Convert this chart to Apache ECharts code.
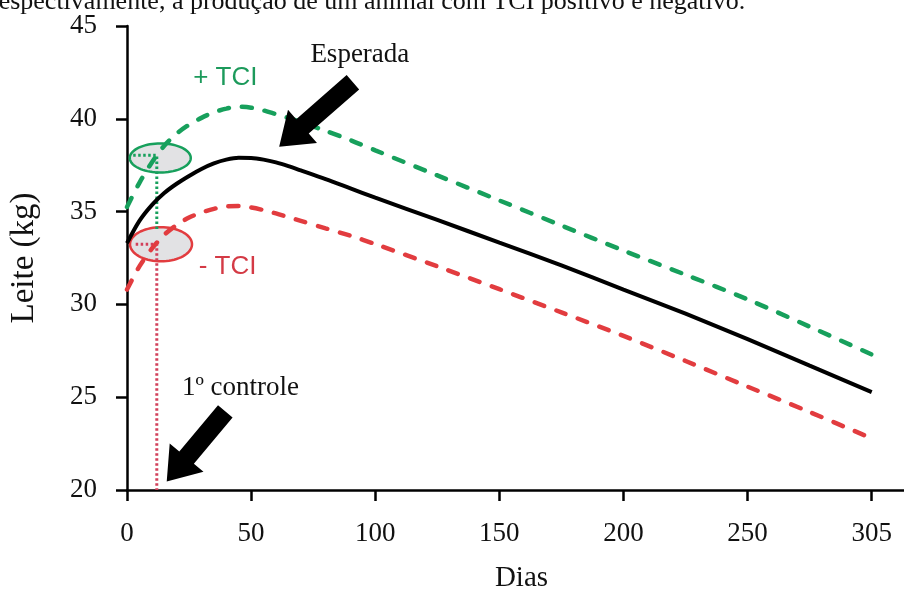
<!DOCTYPE html>
<html>
<head>
<meta charset="utf-8">
<script src="https://cdn.jsdelivr.net/npm/echarts@6/dist/echarts.min.js"></script>
<style>
html,body{margin:0;padding:0;background:#fff;overflow:hidden;}
#chart{width:904px;height:589px;}
</style>
</head>
<body>
<div id="chart"></div>
<script>
// ---- data ----
const dias = [0,5,10,15,20,25,30,35,40,45,50,55,60,65,70,80,90,100,125,150,175,200,225,250,275,300];
const esperada = [33.3,34.5,35.35,36.0,36.5,36.92,37.3,37.6,37.8,37.9,37.89,37.8,37.65,37.45,37.22,36.75,36.25,35.75,34.55,33.33,32.1,30.8,29.5,28.13,26.7,25.27];
const tciPos = [35.25,36.55,37.65,38.55,39.2,39.68,40.05,40.35,40.55,40.65,40.6,40.45,40.25,40.05,39.83,39.35,38.85,38.3,36.95,35.6,34.25,32.9,31.6,30.27,28.8,27.3];
const tciNeg = [30.8,32.05,33.0,33.75,34.28,34.68,34.95,35.15,35.28,35.3,35.22,35.08,34.9,34.7,34.5,34.1,33.7,33.25,32.05,30.82,29.57,28.3,26.95,25.57,24.2,22.78];
const xTicks = [0,50,100,150,200,250,300];
const xTickLabels = ['0','50','100','150','200','250','305'];
const controleDia = 12;
const controlePos = 38.04;
const controleNeg = 33.24;
const elipses = [[13.4,37.89],[13.7,33.24]];
// arrows: [tipDay, tipValue, tailDay, tailValue]
const setas = [[61.3,38.49,91.0,41.97],[16.0,20.46,39.6,24.24]];
// text annotations: [day, value]
const txtEsperada = [93.8,43.46];
const txtPos = [39.6,42.22];
const txtNeg = [40.5,32.0];
const txtControle = [45.7,25.5];

const GREEN = '#17a05c';
const RED = '#e23c3f';
const SERIF = '"Liberation Serif","Times New Roman",serif';
const SANS = '"Liberation Sans",Arial,sans-serif';

const chart = echarts.init(document.getElementById('chart'), null, {renderer:'canvas'});

function pairs(xs, ys){ return xs.map((x,i)=>[x,ys[i]]); }

function ellipseItem(params, api){
  const c = api.coord([api.value(0), api.value(1)]);
  const rx = params.dataIndex === 0 ? 30.5 : 31;
  const ry = params.dataIndex === 0 ? 14.5 : 17;
  const pts = [];
  for(let i=0;i<72;i++){
    const a = i/72*Math.PI*2;
    pts.push([c[0]+rx*Math.cos(a), c[1]+ry*Math.sin(a)]);
  }
  return {type:'polygon', shape:{points:pts},
    style:{fill:'#e2e2e4', stroke: params.dataIndex===0?GREEN:RED, lineWidth:2.5}};
}

function arrowItem(params, api){
  const tip = api.coord([api.value(0), api.value(1)]);
  const tail = api.coord([api.value(2), api.value(3)]);
  const dx = tip[0]-tail[0], dy = tip[1]-tail[1];
  const L = Math.hypot(dx,dy);
  const ux = dx/L, uy = dy/L, nx = -uy, ny = ux;
  const hl = 31, hw = 22, sw = 9.5;
  const bx = tip[0]-ux*hl, by = tip[1]-uy*hl;
  const pts = [
    [tail[0]+nx*sw, tail[1]+ny*sw],
    [bx+nx*sw, by+ny*sw],
    [bx+nx*hw, by+ny*hw],
    [tip[0], tip[1]],
    [bx-nx*hw, by-ny*hw],
    [bx-nx*sw, by-ny*sw],
    [tail[0]-nx*sw, tail[1]-ny*sw]
  ];
  return {type:'polygon', shape:{points:pts}, style:{fill:'#000'}};
}

function textPoint(pos, text, color, family, size){
  return {value:pos, label:{show:true, formatter:text, color:color, fontFamily:family, fontSize:size,
    position:'inside', align:'center', verticalAlign:'middle'}};
}

const option = {
  animation:false,
  backgroundColor:'#fff',
  grid:{left:127, right:0, top:26, bottom:99, containLabel:false, outerBoundsMode:'none'},
  xAxis:{
    type:'value', min:0, max:313,
    name:'Dias', nameLocation:'middle', nameGap:74,
    nameTextStyle:{fontFamily:SERIF, fontSize:29, color:'#111', padding:[0,0,0,12]},
    axisLine:{show:true, onZero:false, lineStyle:{color:'#000', width:2.5}},
    axisTick:{show:true, inside:false, length:11, lineStyle:{color:'#000', width:2.5}, customValues:xTicks},
    axisLabel:{show:true, margin:30, fontFamily:SERIF, fontSize:27, color:'#111', customValues:xTicks,
      formatter:(v)=>{const i=xTicks.indexOf(v); return i>=0?xTickLabels[i]:'';}},
    splitLine:{show:false}
  },
  yAxis:{
    type:'value', min:20, max:45, interval:5,
    name:'Leite (kg)', nameLocation:'middle', nameGap:86,
    nameTextStyle:{fontFamily:SERIF, fontSize:33, color:'#111'},
    axisLine:{show:true, onZero:false, lineStyle:{color:'#000', width:2.5}},
    axisTick:{show:true, inside:false, length:11, lineStyle:{color:'#000', width:2.5}},
    axisLabel:{show:true, margin:30, fontFamily:SERIF, fontSize:27, color:'#111'},
    splitLine:{show:false}
  },
  graphic:[{
    type:'text', left:-10, top:-11, z:10,
    style:{text:'respectivamente, a produção de um animal com TCI positivo e negativo.', font:'26px "Liberation Serif"', fill:'#111'}
  }],
  series:[
    {type:'custom', name:'elipses', coordinateSystem:'cartesian2d', renderItem:ellipseItem, data:elipses, z:1, silent:true},
    {type:'line', name:'ctrlPos', data:[[2.5,controlePos],[controleDia,controlePos],[controleDia,34.05]], showSymbol:false, symbol:'none',
      lineStyle:{color:GREEN, width:3, type:[2.5,2.5]}, z:2, silent:true},
    {type:'line', name:'ctrlNeg', data:[[3.5,controleNeg],[controleDia,controleNeg],[controleDia,20]], showSymbol:false, symbol:'none',
      lineStyle:{color:'#d2405a', width:3, type:[2.5,2.5]}, z:2, silent:true},
    {type:'line', name:'+ TCI', data:pairs(dias,tciPos), smooth:0.3, symbol:'none',
      lineStyle:{color:GREEN, width:4.5, type:[10,13], cap:'round'}, z:3},
    {type:'line', name:'- TCI', data:pairs(dias,tciNeg), smooth:0.3, symbol:'none',
      lineStyle:{color:RED, width:4.5, type:[10,13], cap:'round'}, z:3},
    {type:'line', name:'Esperada', data:pairs(dias,esperada), smooth:0.3, symbol:'none',
      lineStyle:{color:'#000', width:4}, z:4},
    {type:'custom', name:'setas', coordinateSystem:'cartesian2d', renderItem:arrowItem, data:setas,
      encode:{x:[0,2], y:[1,3]}, z:5, silent:true},
    {type:'scatter', name:'textos', symbolSize:0, z:6, silent:true, itemStyle:{opacity:1}, data:[
      textPoint(txtEsperada,'Esperada','#111',SERIF,27),
      textPoint(txtPos,'+ TCI','#1c9a5b',SANS,26),
      textPoint(txtNeg,'- TCI','#d43a45',SANS,26),
      textPoint(txtControle,'1º controle','#111',SERIF,27)
    ]}
  ]
};
chart.setOption(option);
</script>
</body>
</html>
